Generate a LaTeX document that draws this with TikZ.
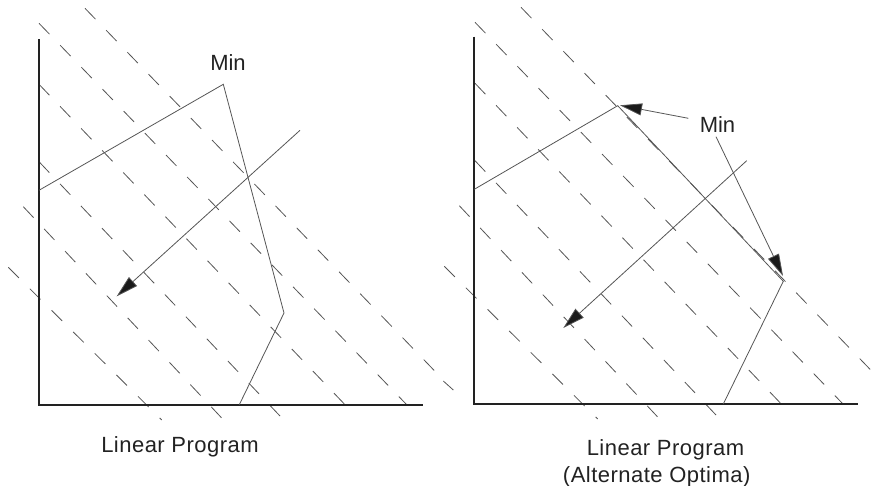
\documentclass[tikz,border=0pt]{standalone}
\usepackage{fontspec}
\setmainfont{Liberation Sans}
\newfontfamily\capfont[LetterSpace=2.2]{Liberation Sans}
\usetikzlibrary{arrows.meta}
\definecolor{axiscol}{HTML}{222222}
\definecolor{linecol}{HTML}{555555}
\definecolor{hatchcol}{HTML}{555555}
\definecolor{tipcol}{HTML}{1A1A1A}
\tikzset{
  axisline/.style={draw=axiscol, line width=2pt},
  thinline/.style={draw=linecol, line width=0.8pt},
  hatchline/.style={draw=hatchcol, line width=0.8pt, dash pattern=on 15pt off 15.5pt},
  bigarrow/.style={thinline, -{Triangle[length=22pt,width=12pt,fill=tipcol]}},
  lbl/.style={font=\fontsize{22}{26}\selectfont, text=axiscol, inner sep=0pt, anchor=base},
  caplbl/.style={font=\capfont\fontsize{22}{26}\selectfont, text=axiscol, inner sep=0pt, anchor=base},
}
\newcommand\drawhatchset{%
  \draw[hatchline] (85,8.3) -- (435,371.3);
  \draw[hatchline] (39,23.3) -- (406.7,404.7);
  \draw[hatchline] (39,84.3) -- (345,404.7);
  \draw[hatchline] (39,161.7) -- (280,416);
  \draw[hatchline] (23.3,206.7) -- (221.7,418);
  \draw[hatchline] (8.3,267.3) -- (161.7,420);
}
\begin{document}
\begin{tikzpicture}[x=1pt,y=-1pt]
\useasboundingbox (0,0) rectangle (881,486);
% ---------- left panel ----------
\drawhatchset
\coordinate (lTop) at (39,39.3);
\coordinate (lO) at (39,404.7);
\coordinate (lRight) at (422.7,404.7);
\draw[axisline] (lTop) -- (lO) -- (lRight);
\coordinate (lA) at (39,190.3);
\coordinate (lB) at (223.3,84.3);
\coordinate (lC) at (284,313);
\coordinate (lD) at (239.3,404.7);
\draw[thinline] (lA) -- (lB) -- (lC) -- (lD);
\coordinate (lObjS) at (300,130.3);
\coordinate (lObjE) at (116.7,296.3);
\draw[bigarrow] (lObjS) -- (lObjE);
\node[lbl] (lMin) at (228,70.7) {Min};
\node[caplbl] (lCap) at (180,452.3) {Linear Program};
% ---------- right panel ----------
\begin{scope}[shift={(436,-1)}]
\drawhatchset
\end{scope}
\draw[hatchline] (443.3,381) -- (453.3,390);
\coordinate (rTop) at (474,36.7);
\coordinate (rO) at (474,404);
\coordinate (rRight) at (857.7,404);
\draw[axisline] (rTop) -- (rO) -- (rRight);
\coordinate (rA) at (474.3,189.3);
\coordinate (rB) at (617.7,105.7);
\coordinate (rC) at (783.3,281.3);
\coordinate (rD) at (723.3,404);
\draw[thinline] (rA) -- (rB) -- (rC) -- (rD);
\coordinate (rObjS) at (746.7,160.7);
\coordinate (rObjE) at (563.3,328);
\draw[bigarrow] (rObjS) -- (rObjE);
\node[lbl] (rMin) at (717.5,132.3) {Min};
\coordinate (rMinA) at (688.3,118.3);
\coordinate (rMinB) at (716,136.7);
\coordinate (rTipB) at (620,105.3);
\coordinate (rTipC) at (783,276);
\draw[bigarrow] (rMinA) -- (rTipB);
\draw[bigarrow] (rMinB) -- (rTipC);
\node[caplbl] (rCap1) at (665.5,455) {Linear Program};
\node[caplbl] (rCap2) at (656.7,482.7) {(Alternate Optima)};
\end{tikzpicture}
\end{document}
